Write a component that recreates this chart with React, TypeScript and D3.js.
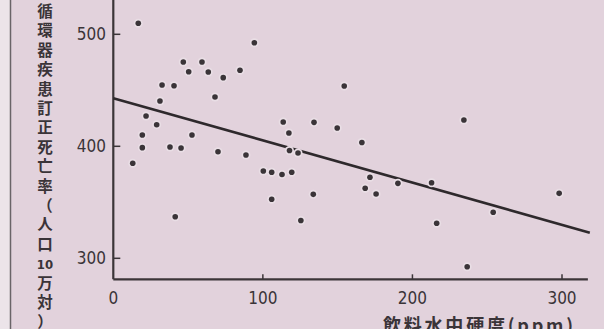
import * as d3 from "d3";
import { useEffect, useRef } from "react";

// 飲料水中硬度 (ppm)
const hardness = [
    16.7, 94.3, 46.8, 59.3, 50.4, 63.5, 84.7, 73.5, 32.6, 40.6, 68.0, 31.2,
    21.9, 29.0, 19.4, 19.4, 37.9, 45.3, 52.6, 70.0, 88.7, 113.6, 117.4, 117.8,
    123.5, 13.0, 100.3, 105.9, 112.8, 119.3, 105.9, 133.7, 125.4, 41.4, 154.4,
    134.2, 149.7, 166.2, 171.6, 168.4, 175.7, 190.3, 212.8, 216.2, 236.6, 254.0,
    298.1, 234.4,
];
// 訂正死亡率 (人口10万対)
const mortality = [
    509.8, 492.5, 475.3, 475.3, 466.6, 466.3, 467.9, 461.3, 454.7, 454.1, 444.0,
    440.4, 427.1, 419.3, 410.1, 398.8, 399.4, 398.5, 410.1, 395.2, 392.2, 421.7,
    411.9, 396.2, 394.0, 384.8, 377.9, 376.8, 374.8, 376.8, 352.7, 357.1, 333.8,
    337.1, 453.8, 421.4, 416.3, 403.4, 372.3, 362.5, 357.4, 366.9, 367.5, 331.3,
    292.5, 341.1, 358.0, 423.5,
];
const fitLine = [
    { x: 0, y: 443 },
    { x: 318.6, y: 322.9 },
];
const xTicks = [0, 100, 200, 300];
const yTicks = [300, 400, 500];
const yLabelChars = [
    "循", "環", "器", "疾", "患", "訂", "正", "死", "亡", "率", "（", "人", "口", "10", "万", "対", "）",
];
const xLabel = "飲料水中硬度(ppm)";

const W = 604;
const H = 329;
const numFont = "'DejaVu Sans Condensed', 'Liberation Sans Narrow', 'DejaVu Sans', sans-serif";
const jpFont = "'Noto Sans CJK JP', sans-serif";

export default function App() {
    const ref = useRef<SVGSVGElement | null>(null);

    useEffect(() => {
        document.body.style.margin = "0";
        if (!ref.current) return;
        const svg = d3.select(ref.current);
        svg.selectAll("*").remove();

        const x = d3.scaleLinear().domain([0, 300]).range([113.3, 562]);
        const y = d3.scaleLinear().domain([300, 500]).range([258.3, 34.3]);
        const axisY = y(281.25);

        svg.append("rect").attr("width", W).attr("height", H).attr("fill", "#e2d2dc");
        svg.append("rect").attr("width", 10).attr("height", H).attr("fill", "#ece4e9");
        svg.append("line")
            .attr("x1", 10.5).attr("x2", 10.5).attr("y1", 0).attr("y2", H)
            .attr("stroke", "#6a6468").attr("stroke-width", 1.5);

        // y label: vertical, one glyph per cell, in a single text element
        const yl = svg.append("text")
            .attr("text-anchor", "middle")
            .style("font-family", jpFont)
            .style("font-size", "15.5px")
            .style("font-weight", 700)
            .style("fill", "#3a3438");
        yLabelChars.forEach((c, i) => {
            yl.append("tspan")
                .attr("x", 45)
                .attr("y", 17 + i * 19.4)
                .style("font-family", c === "10" ? numFont : jpFont)
                .style("font-size", c === "10" ? "13px" : "15.5px")
                .text(c);
        });

        // axes
        svg.append("line")
            .attr("x1", x(0)).attr("x2", x(0)).attr("y1", 0).attr("y2", axisY)
            .attr("stroke", "#3b3538").attr("stroke-width", 2.2);
        svg.append("line")
            .attr("x1", x(0)).attr("x2", x(317.3)).attr("y1", axisY).attr("y2", axisY)
            .attr("stroke", "#3b3538").attr("stroke-width", 2.2);

        svg.selectAll(".ytick")
            .data(yTicks)
            .join("line")
            .attr("x1", x(0)).attr("x2", x(0) + 7)
            .attr("y1", (d) => y(d)).attr("y2", (d) => y(d))
            .attr("stroke", "#3b3538").attr("stroke-width", 1.5);
        svg.selectAll(".ylab")
            .data(yTicks)
            .join("text")
            .attr("x", 106)
            .attr("y", (d) => y(d) + 6)
            .attr("text-anchor", "end")
            .style("font-family", numFont)
            .style("font-size", "17px")
            .style("fill", "#3a3438")
            .text((d) => d);

        svg.selectAll(".xtick")
            .data(xTicks.slice(1))
            .join("line")
            .attr("x1", (d) => x(d)).attr("x2", (d) => x(d))
            .attr("y1", axisY).attr("y2", axisY - 5)
            .attr("stroke", "#3b3538").attr("stroke-width", 1.5);
        svg.selectAll(".xlab")
            .data(xTicks)
            .join("text")
            .attr("x", (d) => x(d))
            .attr("y", 304)
            .attr("text-anchor", "middle")
            .style("font-family", numFont)
            .style("font-size", "17px")
            .style("fill", "#3a3438")
            .text((d) => d);

        svg.append("text")
            .attr("x", 383)
            .attr("y", 332)
            .attr("textLength", 190)
            .attr("lengthAdjust", "spacing")
            .style("font-family", jpFont)
            .style("font-size", "18px")
            .style("font-weight", 700)
            .style("fill", "#3a3438")
            .text(xLabel);

        // regression line
        const line = d3.line<{ x: number; y: number }>()
            .x((d) => x(d.x))
            .y((d) => y(d.y));
        svg.append("path")
            .attr("d", line(fitLine))
            .attr("fill", "none")
            .attr("stroke", "#2e292c")
            .attr("stroke-width", 2.6);

        // points
        const pts = hardness.map((h, i) => ({ h, m: mortality[i] }));
        svg.selectAll(".halo")
            .data(pts)
            .join("circle")
            .attr("cx", (d) => x(d.h))
            .attr("cy", (d) => y(d.m))
            .attr("r", 4.5)
            .attr("fill", "#e9dee5");
        svg.selectAll(".dot")
            .data(pts)
            .join("circle")
            .attr("cx", (d) => x(d.h))
            .attr("cy", (d) => y(d.m))
            .attr("r", 2.8)
            .attr("fill", "#3a3438");
    }, []);

    return (
        <svg
            ref={ref}
            width={W}
            height={H}
            style={{ display: "block", position: "absolute", left: 0, top: 0 }}
        ></svg>
    );
}
